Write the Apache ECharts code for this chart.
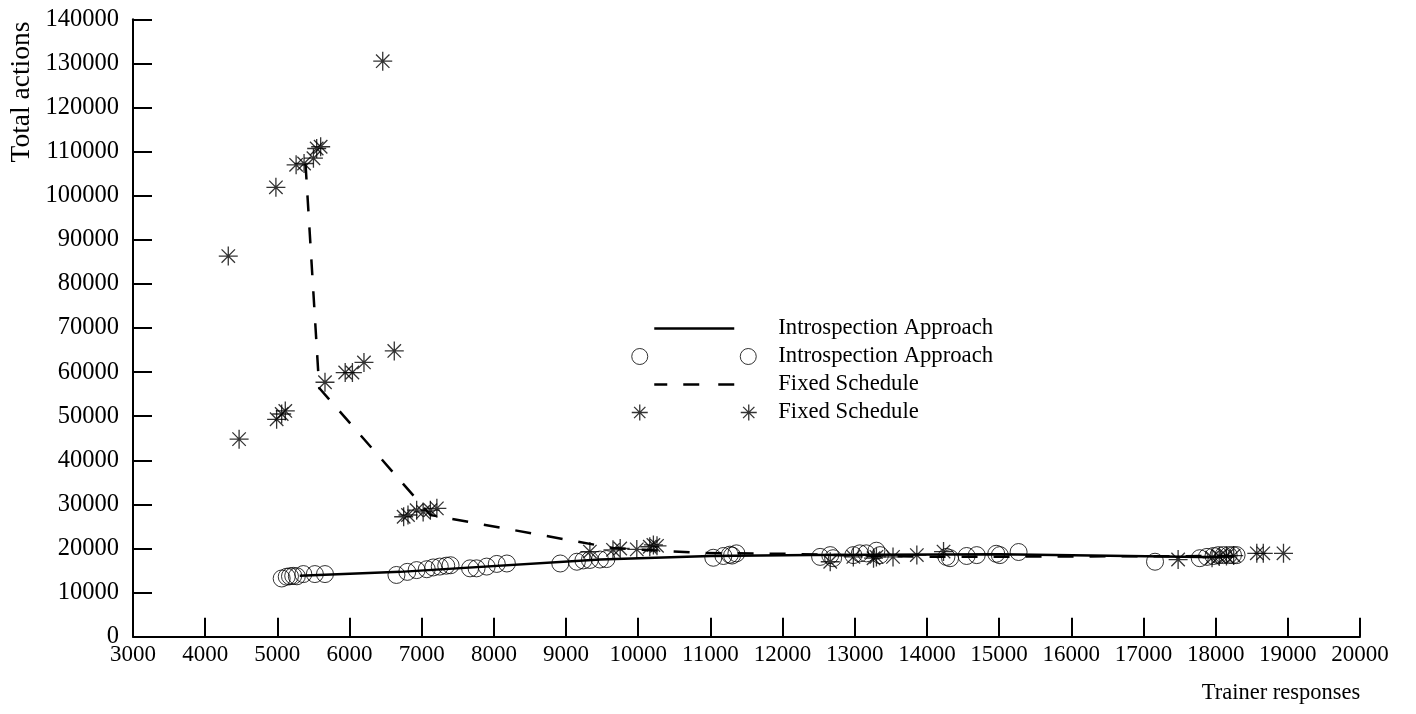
<!DOCTYPE html>
<html>
<head>
<meta charset="utf-8">
<script src="https://cdn.jsdelivr.net/npm/echarts@6/dist/echarts.min.js"></script>
<style>
html,body{margin:0;padding:0;background:#fff;}
#chart{width:1416px;height:714px;}
</style>
</head>
<body>
<div id="chart"></div>
<script>
// ---- data ----
const xTicks = [3000,4000,5000,6000,7000,8000,9000,10000,11000,12000,13000,14000,15000,16000,17000,18000,19000,20000];
const yTicks = [0,10000,20000,30000,40000,50000,60000,70000,80000,90000,100000,110000,120000,130000,140000];

const introLineX = [5310, 6700, 9470, 11000, 12400, 15000, 17800, 18250];
const introLineY = [13800, 14700, 17500, 18300, 18500, 18700, 18100, 18200];

const introPtsX = [5060,5130,5175,5220,5270,5360,5520,5660,
  6650,6800,6930,7070,7160,7250,7340,7400,
  7670,7760,7900,8040,8180,
  8920,9150,9240,9330,9470,9560,
  11040,11180,11270,11360,11300,
  12520,12660,12700,12980,13070,13160,13300,13350,
  14270,14320,14550,14690,14960,
  15010,15270,
  17160,17780,17880,17970,18040,18110,18180,18240,18290];
const introPtsY = [13200,13600,13700,13800,13700,14200,14200,14200,
  14000,14700,15100,15300,15700,15900,16100,16200,
  15500,15500,15900,16500,16600,
  16600,17000,17300,17400,17500,17600,
  17900,18300,18600,18900,18400,
  18100,18500,17800,18500,18900,18900,19500,18500,
  18100,17800,18300,18500,18800,
  18500,19200,
  17000,17800,18100,18300,18500,18500,18500,18500,18500];

const fixedLineX = [5390, 5580, 7120, 9650, 10850, 12000, 14000, 18300];
const fixedLineY = [107300, 56400, 27600, 20100, 19000, 18800, 18100, 18300];

const fixedPtsX = [4320,4470,4980,4990,5060,5110,5260,5370,5500,5545,5600,6460,
  5660,5940,6040,6200,6620,
  6750,6810,6930,7020,7120,7210,
  9330,9650,9750,9980,10160,10210,10260,
  12660,12980,13260,13300,13530,13860,14230,
  17480,17950,18050,18150,18250,18570,18660,18940];
const fixedPtsY = [86300,44800,101900,49300,50500,51200,107000,107300,108500,110700,111100,130500,
  57700,59900,59900,62200,64800,
  27200,27600,28700,28300,28700,29100,
  19300,19700,20000,19800,20400,20800,20600,
  17000,18100,17800,18100,18100,18500,19300,
  17500,17900,18200,18300,18400,18900,18900,18900];

const seriesNames = ['Introspection Approach', 'Introspection Approach', 'Fixed Schedule', 'Fixed Schedule'];
const xAxisTitle = 'Trainer responses';
const yAxisTitle = 'Total actions';

// ---- build ----
function pairs(xs, ys){ return xs.map((x,i)=>[x, ys[i]]); }
const FONT = 'Liberation Serif';
const STAR = 'path://M-1,0L1,0M0,-1L0,1M-0.7071,-0.7071L0.7071,0.7071M-0.7071,0.7071L0.7071,-0.7071';
const keys = ['introLine','introPts','fixedLine','fixedPts'];
const labelOf = {}; keys.forEach((k,i)=>labelOf[k]=seriesNames[i]);

// legend icons: box 0..142 x 0..17 (the leading M0,0 M142,17 fix the icon box)
const PAD = 'M0,0 M142,17 ';
const iconLine = 'path://' + PAD + 'M23,8.5 L103,8.5';
const iconDash = 'path://' + PAD + 'M23,8.5 L36,8.5 M52,8.5 L68,8.5 M87,8.5 L103,8.5';
const circ = (cx)=>`M${cx+8},8.5 A8,8,0,1,1,${cx-8},8.5 A8,8,0,1,1,${cx+8},8.5 Z `;
const iconCircles = 'path://' + PAD + circ(8.5) + circ(117);
const ast = (cx)=>`M${cx-8},8.5 L${cx+8},8.5 M${cx},0.5 L${cx},16.5 M${cx-5.66},2.84 L${cx+5.66},14.16 M${cx-5.66},14.16 L${cx+5.66},2.84 `;
const iconStars = 'path://' + PAD + ast(8.5) + ast(117.5);

const chart = echarts.init(document.getElementById('chart'), null, {renderer:'canvas'});
const option = {
  animation: false,
  backgroundColor: '#fff',
  grid: { left: 133, right: 56, top: 19.3, bottom: 77.3, containLabel: false, outerBoundsMode: 'none' },
  xAxis: {
    type: 'value', min: xTicks[0], max: xTicks[xTicks.length-1], interval: xTicks[1]-xTicks[0],
    axisLine: { show: true, onZero: false, lineStyle: { color: '#000', width: 2 } },
    axisTick: { show: true, inside: true, length: 19, lineStyle: { color: '#000', width: 2 } },
    axisLabel: { color: '#000', fontFamily: FONT, fontSize: 23, margin: 7, showMinLabel: true, showMaxLabel: true,
      formatter: (v)=>String(v) },
    splitLine: { show: false }
  },
  yAxis: {
    type: 'value', min: yTicks[0], max: yTicks[yTicks.length-1], interval: yTicks[1]-yTicks[0],
    axisLine: { show: true, onZero: false, lineStyle: { color: '#000', width: 2 } },
    axisTick: { show: true, inside: true, length: 19, lineStyle: { color: '#000', width: 2 } },
    axisLabel: { color: '#000', fontFamily: FONT, fontSize: 24.5, margin: 14, showMinLabel: true, showMaxLabel: true,
      formatter: (v)=>String(v) },
    splitLine: { show: false }
  },
  legend: {
    orient: 'vertical', left: 625, top: 312, itemWidth: 142, itemHeight: 17, itemGap: 5,
    selectedMode: false,
    formatter: (name)=>labelOf[name],
    textStyle: { color: '#000', fontFamily: FONT, fontSize: 22.7 },
    data: [
      { name: 'introLine', icon: iconLine, itemStyle: { color: 'rgba(0,0,0,0)', borderColor: '#000', borderWidth: 2.5 } },
      { name: 'introPts', icon: iconCircles, itemStyle: { color: 'rgba(0,0,0,0)', borderColor: '#000', borderWidth: 1 } },
      { name: 'fixedLine', icon: iconDash, itemStyle: { color: 'rgba(0,0,0,0)', borderColor: '#000', borderWidth: 2.5 } },
      { name: 'fixedPts', icon: iconStars, itemStyle: { color: 'rgba(0,0,0,0)', borderColor: '#000', borderWidth: 1.3 } }
    ]
  },
  graphic: [
    { type: 'text', x: 22, y: 92, rotation: Math.PI/2,
      style: { text: yAxisTitle, font: '27.5px "Liberation Serif"', fill: '#000', align: 'center', verticalAlign: 'middle' } },
    { type: 'text', x: 1281, y: 693,
      style: { text: xAxisTitle, font: '22.5px "Liberation Serif"', fill: '#000', align: 'center', verticalAlign: 'middle' } }
  ],
  series: [
    { name: 'introLine', type: 'line', data: pairs(introLineX, introLineY), symbol: 'none', silent: true,
      lineStyle: { color: '#000', width: 2.5 }, itemStyle: { color: '#000' }, z: 3 },
    { name: 'introPts', type: 'scatter', data: pairs(introPtsX, introPtsY), symbol: 'circle', symbolSize: 17, silent: true,
      itemStyle: { color: 'rgba(0,0,0,0)', borderColor: '#000', borderWidth: 1 }, z: 2 },
    { name: 'fixedLine', type: 'line', data: pairs(fixedLineX, fixedLineY), symbol: 'none', silent: true,
      lineStyle: { color: '#000', width: 2.5, type: [16, 16] }, itemStyle: { color: '#000' }, z: 3 },
    { name: 'fixedPts', type: 'scatter', data: pairs(fixedPtsX, fixedPtsY), symbol: STAR, symbolSize: 19, silent: true,
      itemStyle: { color: 'rgba(0,0,0,0)', borderColor: '#000', borderWidth: 1.3 }, z: 2 }
  ]
};
chart.setOption(option);
</script>
</body>
</html>
